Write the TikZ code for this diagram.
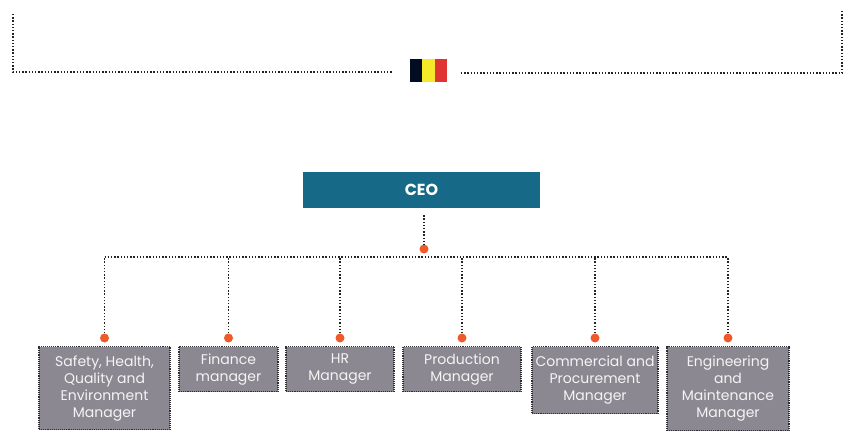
\documentclass[tikz,border=0pt]{standalone}
\usepackage{fontspec}
\setmainfont{Poppins}
\usepackage{xcolor}
\usetikzlibrary{calc}
\definecolor{ceobg}{HTML}{176A87}
\definecolor{unitbg}{HTML}{8B8891}
\definecolor{unitline}{HTML}{2E2E33}
\definecolor{unittext}{HTML}{F4F4F4}
\definecolor{linec}{HTML}{222222}
\definecolor{orangedot}{HTML}{EF5A2A}
\definecolor{flagk}{HTML}{020D22}
\definecolor{flagy}{HTML}{F5EA2A}
\definecolor{flagr}{HTML}{E03434}
\tikzset{
  link/.style={draw=linec, line width=1.5pt, dash pattern=on 1.4pt off 1.8pt},
  dot/.style={circle, fill=orangedot, inner sep=0pt, minimum size=9pt},
  boss/.style={fill=ceobg, text=white, font=\bfseries\fontsize{16}{18}\selectfont,
    minimum width=237pt, minimum height=36pt, inner sep=0pt},
  unit/.style={fill=unitbg, draw=unitline, line width=1.3pt, dash pattern=on 1.1pt off 1pt,
    text=unittext, font=\fontsize{14}{17}\selectfont, align=center, anchor=north, inner sep=0pt},
}

\begin{document}
\begin{tikzpicture}[x=1pt,y=-1pt]
  \useasboundingbox (0,0) rectangle (854,446);

  % flag and frame
  \fill[flagk] (410,59) rectangle (422.3,82);
  \fill[flagy] (422.3,59) rectangle (434.7,82);
  \fill[flagr] (434.7,59) rectangle (447,82);
  \coordinate (lt) at (13,14);
  \coordinate (le) at (392,72);
  \coordinate (rt) at (842,10);
  \coordinate (re) at (461,73);
  \draw[link] (lt) |- (le);
  \draw[link] (re) -| (rt);

  % top
  \node[boss] (ceo) at (421.5,190) {CEO};
  \node[dot] (top) at (424,249) {};
  \coordinate (hub) at (424,257);
  \draw[link] ($(ceo.south -| top)+(0,7)$) -- (top);

  % managers
  \foreach \n/\x/\w/\h/\t in {
    1/104.5/131/83/{Safety, Health,\\Quality and\\Environment\\Manager},
    2/228.5/99/45/{Finance\\manager},
    3/340/108/45/{HR\\Manager},
    4/462/118/45/{Production\\Manager},
    5/595/126/67/{Commercial and\\Procurement\\Manager},
    6/728/122/84/{Engineering\\and\\Maintenance\\Manager}}{
    \node[unit, minimum width=\w pt, minimum height=\h pt] (m\n) at (\x,346) {\t};
    \node[dot] (d\n) at ($(m\n.north)+(0,-8)$) {};
    \draw[link] (d\n) -- (d\n |- hub);
  }
  \draw[link] (d1 |- hub) -- (d6 |- hub);
\end{tikzpicture}
\end{document}
